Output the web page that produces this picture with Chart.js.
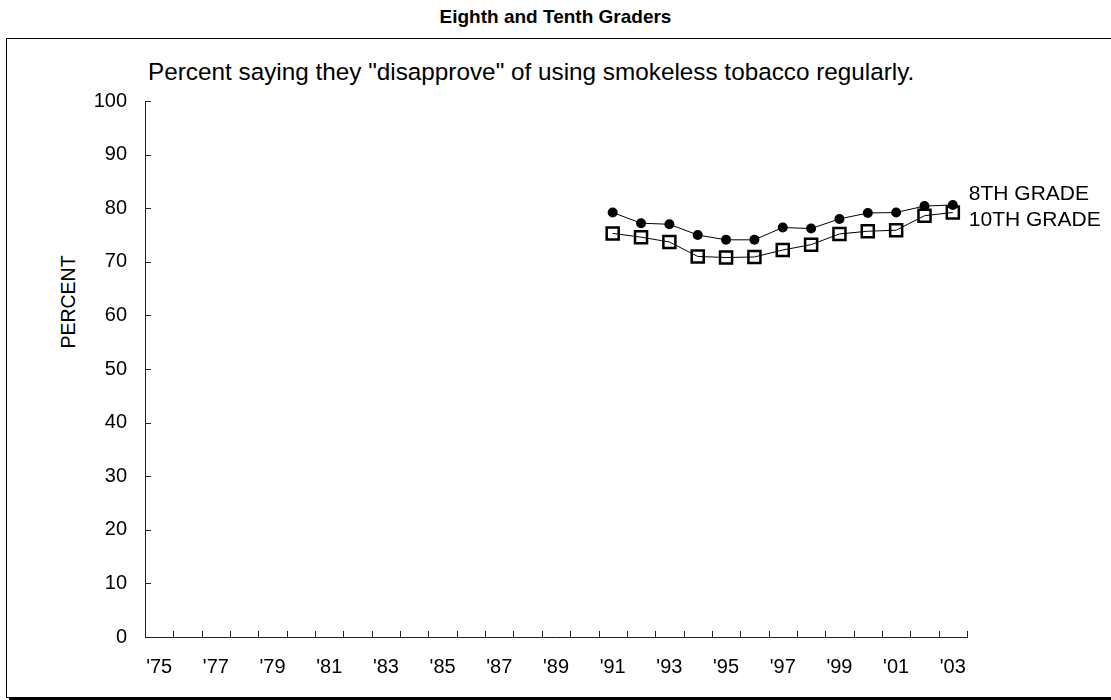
<!DOCTYPE html>
<html>
<head>
<meta charset="utf-8">
<script src="https://cdn.jsdelivr.net/npm/chart.js@4.4.0/dist/chart.umd.min.js"></script>
<style>
  body { margin: 0; width: 1111px; height: 700px; overflow: hidden; background: #fff; position: relative;
         font-family: Arial, "Liberation Sans", sans-serif; color: #000; }
  #title { position: absolute; top: 6px; left: 0; width: 1111px; text-align: center; font-weight: bold; font-size: 19px; }
  #frame { position: absolute; left: 6px; top: 38px; width: 1120px; height: 658px; border: 1px solid #000; box-shadow: 3px 3px 0 #000; }
  #subtitle { position: absolute; left: 148px; top: 58px; font-size: 24.3px; white-space: nowrap; }
  #ylabel { position: absolute; left: 68px; top: 302px; transform: translate(-50%, -50%) rotate(-90deg); font-size: 19.5px; }
  canvas { position: absolute; left: 0; top: 0; }
</style>
</head>
<body>
<div id="title">Eighth and Tenth Graders</div>
<div id="frame"></div>
<div id="subtitle">Percent saying they "disapprove" of using smokeless tobacco regularly.</div>
<div id="ylabel">PERCENT</div>
<canvas id="chart" width="1111" height="700"></canvas>
<script>
// years shown on the axis
const yearLabels = ["'75", "'76", "'77", "'78", "'79", "'80", "'81", "'82", "'83", "'84",
                    "'85", "'86", "'87", "'88", "'89", "'90", "'91", "'92", "'93", "'94",
                    "'95", "'96", "'97", "'98", "'99", "'00", "'01", "'02", "'03"];

// survey starts in '91 for these grades
const grade8 = [null, null, null, null, null, null, null, null, null, null,
                null, null, null, null, null, null,
                79.2, 77.2, 77.0, 75.0, 74.1, 74.1, 76.4, 76.2, 78.0, 79.1, 79.2, 80.4, 80.6];
const grade10 = [null, null, null, null, null, null, null, null, null, null,
                 null, null, null, null, null, null,
                 75.3, 74.6, 73.7, 71.0, 70.8, 70.9, 72.2, 73.2, 75.2, 75.7, 75.9, 78.6, 79.2];

const seriesNames = ["8TH GRADE", "10TH GRADE"];
const labelShift = [-11, 8];

const fontFamily = "Arial, 'Liberation Sans', sans-serif";
const axisColor = "#222";

// tick marks point into the plot, so draw them here
const innerTicks = {
  id: "innerTicks",
  afterDraw(chart) {
    const { ctx, chartArea, scales: { x, y } } = chart;
    ctx.save();
    ctx.strokeStyle = axisColor;
    ctx.lineWidth = 1;
    ctx.beginPath();
    y.ticks.forEach((t, i) => {
      const py = Math.round(y.getPixelForTick(i)) + 0.5;
      ctx.moveTo(chartArea.left, py);
      ctx.lineTo(chartArea.left + 6, py);
    });
    const w = x.getPixelForValue(1) - x.getPixelForValue(0);
    for (let i = 0; i <= yearLabels.length; i++) {
      const px = Math.round(x.getPixelForValue(0) - w / 2 + i * w) + 0.5;
      ctx.moveTo(px, chartArea.bottom);
      ctx.lineTo(px, chartArea.bottom - 6);
    }
    ctx.stroke();
    ctx.restore();
  }
};

const endLabels = {
  id: "endLabels",
  afterDatasetsDraw(chart) {
    const ctx = chart.ctx;
    ctx.save();
    ctx.fillStyle = "#000";
    ctx.font = "21px " + fontFamily;
    ctx.textBaseline = "middle";
    chart.data.datasets.forEach((ds, i) => {
      const pts = chart.getDatasetMeta(i).data;
      const last = pts[pts.length - 1];
      ctx.fillText(ds.label, last.x + 16, last.y + labelShift[i]);
    });
    ctx.restore();
  }
};

new Chart(document.getElementById("chart"), {
  type: "line",
  data: {
    labels: yearLabels,
    datasets: [
      {
        label: seriesNames[0],
        data: grade8,
        borderColor: "#000",
        borderWidth: 1,
        pointStyle: "circle",
        pointRadius: 5,
        pointBackgroundColor: "#000",
        pointBorderColor: "#000",
        pointBorderWidth: 0
      },
      {
        label: seriesNames[1],
        data: grade10,
        borderColor: "#000",
        borderWidth: 1,
        pointStyle: "rect",
        pointRadius: 8.5,
        pointBackgroundColor: "rgba(0,0,0,0)",
        pointBorderColor: "#000",
        pointBorderWidth: 2.5
      }
    ]
  },
  options: {
    responsive: false,
    animation: false,
    events: [],
    layout: { padding: { left: 0, top: 101, right: 144, bottom: 0 } },
    plugins: { legend: { display: false }, tooltip: { enabled: false } },
    scales: {
      x: {
        offset: true,
        afterFit(scale) { scale.height = 63; },
        grid: { display: true, drawOnChartArea: false, drawTicks: false, color: "rgba(0,0,0,0)" },
        border: { display: true, color: axisColor, width: 1 },
        ticks: {
          autoSkip: false,
          maxRotation: 0,
          padding: 18,
          color: "#000",
          font: { family: fontFamily, size: 20 },
          callback: (v, i) => (i % 2 === 0 ? yearLabels[i] : "")
        }
      },
      y: {
        min: 0,
        max: 100,
        afterFit(scale) { scale.width = 145; },
        grid: { display: true, drawOnChartArea: false, drawTicks: false, color: "rgba(0,0,0,0)" },
        border: { display: true, color: axisColor, width: 1 },
        ticks: { stepSize: 10, padding: 18, color: "#000", font: { family: fontFamily, size: 20 } }
      }
    }
  },
  plugins: [innerTicks, endLabels]
});
</script>
</body>
</html>
